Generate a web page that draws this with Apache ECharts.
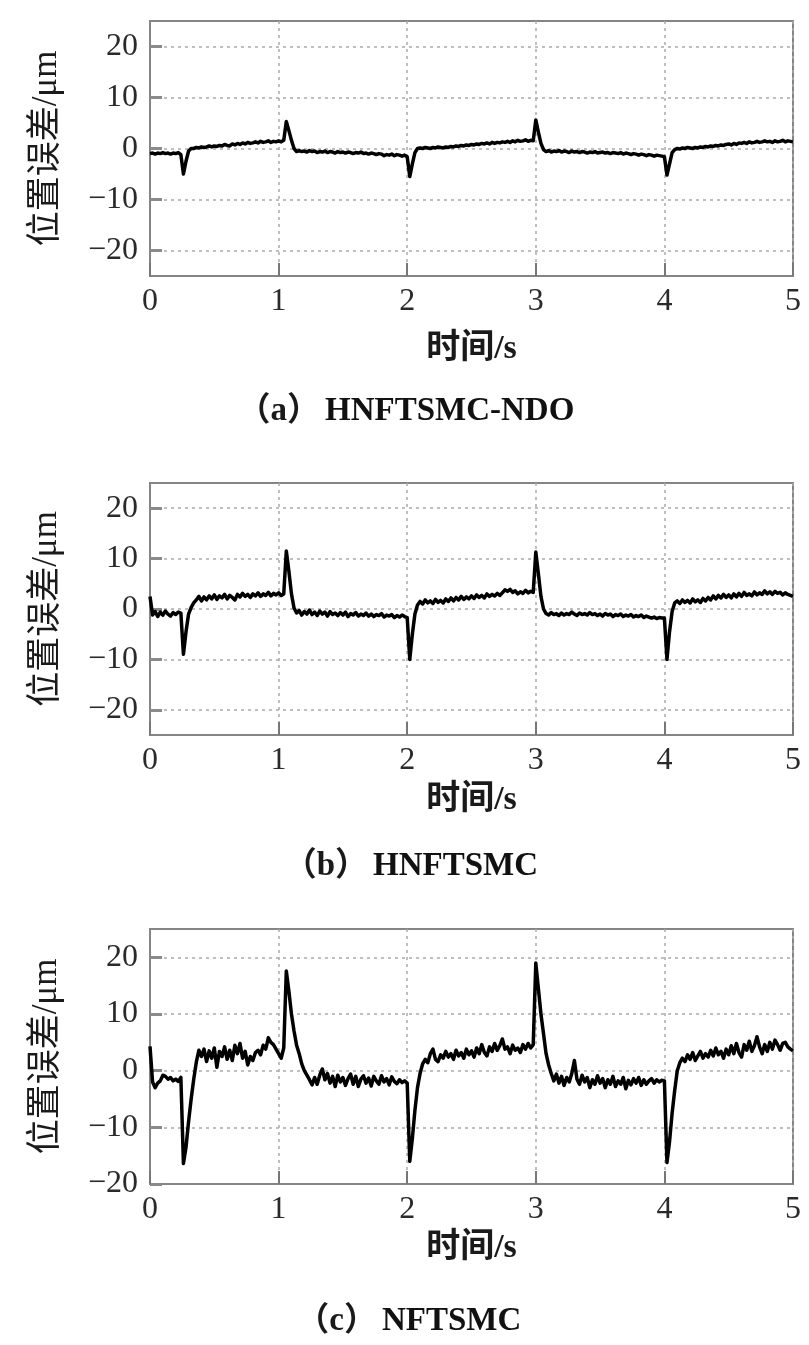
<!DOCTYPE html>
<html>
<head>
<meta charset="utf-8">
<script src="https://cdn.jsdelivr.net/npm/echarts@6/dist/echarts.min.js"></script>
<style>
html,body{margin:0;padding:0;background:#fff;}
#chart{width:809px;height:1345px;}
</style>
</head>
<body>
<div id="chart"></div>
<script>
// sample period of the recorded error signals (s)
const sampleStep = 0.02;
const xTickValues = [0, 1, 2, 3, 4, 5];
const yTickValues = [-20, -10, 0, 10, 20];
const captionTags = ['（a）', '（b）', '（c）'];
const captionNames = ['HNFTSMC-NDO', 'HNFTSMC', 'NFTSMC'];
const xAxisTitle = '时间/s';
const yAxisTitle = '位置误差/μm';

// (a) HNFTSMC-NDO position error, µm, one value every 0.02 s from 0 to 5 s
const errA = [
  -1.0,-0.9,-1.1,-0.9,-1.0,-0.8,-1.0,-0.9,-1.1,-0.9,-1.0,-0.8,-1.2,-5.0,-2.5,-0.5,0.0,0.0,0.2,0.1,0.3,0.2,0.3,0.5,0.3,
  0.5,0.4,0.6,0.5,0.8,0.6,0.5,0.9,0.7,1.0,0.8,1.1,0.9,1.2,1.0,1.1,1.3,1.1,1.4,1.2,1.3,1.5,1.2,1.4,1.3,
  1.5,1.3,1.6,5.3,3.5,1.6,0.0,-0.6,-0.4,-0.6,-0.5,-0.7,-0.4,-0.6,-0.5,-0.8,-0.6,-0.7,-0.5,-0.8,-0.6,-0.7,-0.9,-0.6,-0.8,
  -0.7,-0.9,-0.7,-0.8,-1.0,-0.8,-0.9,-0.7,-1.0,-0.9,-1.1,-0.9,-1.0,-1.2,-1.0,-1.1,-1.4,-1.2,-1.3,-1.1,-1.4,-1.2,-1.3,-1.5,-1.3,
  -1.6,-5.5,-3.0,-0.8,0.0,0.1,0.0,0.2,0.1,0.0,0.2,0.1,0.3,0.2,0.1,0.3,0.2,0.4,0.3,0.5,0.4,0.6,0.5,0.7,0.6,
  0.8,0.7,0.9,0.8,1.0,0.9,1.1,0.9,1.2,1.0,1.2,1.1,1.3,1.2,1.4,1.2,1.5,1.3,1.6,1.4,1.5,1.7,1.4,1.6,1.5,
  5.6,3.2,1.0,-0.2,-0.6,-0.4,-0.7,-0.5,-0.6,-0.4,-0.7,-0.5,-0.6,-0.8,-0.5,-0.7,-0.6,-0.8,-0.6,-0.7,-0.9,-0.7,-0.8,-0.6,-0.9,
  -0.8,-0.7,-0.9,-0.8,-1.0,-0.8,-0.9,-1.0,-0.8,-1.1,-0.9,-1.0,-1.2,-1.0,-1.1,-1.3,-1.1,-1.2,-1.4,-1.2,-1.3,-1.5,-1.3,-1.4,-1.5,
  -1.6,-5.2,-3.0,-0.8,-0.2,0.0,-0.1,0.1,0.0,0.2,0.1,0.0,0.2,0.1,0.3,0.2,0.4,0.3,0.5,0.4,0.6,0.5,0.7,0.6,0.8,
  0.9,0.7,1.0,0.8,1.1,1.0,1.2,1.0,1.3,1.1,1.2,1.4,1.2,1.3,1.5,1.3,1.4,1.2,1.5,1.3,1.4,1.6,1.3,1.5,1.4,
  1.3
];

// (b) HNFTSMC position error, µm
const errB = [
  2.5,-1.2,-0.5,-1.5,-0.6,-1.2,-0.4,-1.0,-1.4,-0.7,-1.1,-0.6,-0.8,-9.0,-4.5,-1.0,0.3,1.2,1.8,2.5,1.6,2.4,1.8,2.6,2.0,
  2.8,1.9,2.6,2.2,2.9,2.0,2.7,2.3,1.8,2.9,2.4,3.1,2.5,2.9,2.3,3.0,2.6,3.2,2.5,3.0,2.7,3.3,2.6,3.1,2.8,
  3.2,2.7,3.0,11.5,7.5,3.0,0.2,-0.8,-0.3,-1.2,-0.5,-1.0,-0.2,-1.1,-0.6,-1.3,-0.4,-1.0,-0.6,-1.4,-0.5,-1.1,-0.8,-1.3,-0.7,
  -1.2,-0.6,-1.5,-0.9,-1.2,-0.7,-1.4,-1.0,-1.3,-0.8,-1.4,-1.0,-1.5,-1.1,-1.3,-0.9,-1.6,-1.2,-1.4,-1.1,-1.7,-1.3,-1.6,-1.2,-1.5,
  -1.7,-10.0,-5.0,-1.0,0.8,1.5,1.0,1.8,1.2,1.6,1.1,1.9,1.3,1.7,1.2,2.0,1.5,2.2,1.6,2.3,1.8,2.5,1.9,2.4,2.0,
  2.6,2.1,2.8,2.3,2.7,2.2,3.0,2.5,2.9,2.6,3.1,2.7,3.2,3.8,3.5,3.9,3.3,3.6,3.0,3.4,3.1,3.7,3.2,3.5,3.3,
  11.3,7.0,2.5,0.0,-0.9,-1.2,-0.7,-1.1,-0.9,-1.3,-0.8,-1.2,-0.9,-1.1,-0.6,-1.0,-1.3,-0.8,-1.1,-0.9,-1.2,-0.7,-1.1,-0.9,-1.3,
  -1.0,-1.4,-0.9,-1.2,-1.0,-1.5,-1.1,-1.3,-1.0,-1.5,-1.2,-1.4,-1.1,-1.6,-1.3,-1.5,-1.2,-1.7,-1.4,-1.6,-1.8,-1.6,-1.9,-1.7,-1.8,
  -1.8,-10.0,-4.5,-0.5,1.2,1.6,1.1,1.8,1.3,1.7,1.2,2.0,1.4,1.8,1.3,2.1,1.6,2.3,1.8,2.6,2.0,2.7,2.2,2.9,2.3,
  2.8,2.2,3.0,2.4,3.1,2.5,3.3,2.7,3.0,2.6,3.4,2.8,3.2,2.9,3.6,3.0,3.4,2.9,3.5,3.1,3.3,2.8,3.2,2.9,2.7,
  2.5
];

// (c) NFTSMC position error, µm
const errC = [
  4.3,-2.0,-3.0,-2.2,-1.8,-0.8,-1.0,-1.5,-1.2,-1.8,-1.5,-1.9,-1.2,-16.4,-13.5,-9.0,-5.0,-1.5,1.5,3.6,2.5,3.8,1.6,3.5,2.2,
  4.0,0.6,3.4,2.5,4.2,2.0,3.6,1.8,4.5,3.0,4.8,2.2,3.4,1.0,2.5,1.8,3.2,3.6,2.8,4.5,3.8,5.8,5.0,4.6,3.8,
  3.0,2.2,4.0,17.6,14.0,10.0,7.0,4.5,3.0,1.2,0.0,-0.8,-1.6,-2.5,-1.2,-2.4,-0.8,0.3,-1.6,-0.5,-2.2,-1.0,-2.8,-0.8,-2.0,
  -1.2,-2.6,-1.4,-0.6,-2.4,-1.0,-2.8,-1.5,-0.9,-2.2,-1.3,-2.7,-1.0,-1.8,-2.4,-0.9,-2.0,-1.4,-2.5,-1.1,-1.9,-2.3,-1.6,-2.1,-1.8,
  -2.2,-16.0,-12.0,-7.0,-3.0,-0.5,1.2,2.0,1.4,3.0,3.8,2.0,1.6,2.8,2.2,3.4,2.4,3.0,2.0,3.6,2.6,3.2,2.2,3.8,2.8,
  3.5,2.4,4.0,3.0,4.6,3.2,2.6,4.2,3.4,4.8,3.6,4.4,5.6,3.8,4.2,3.0,4.5,3.6,4.0,3.2,4.6,3.8,4.8,4.0,4.6,
  19.0,14.5,10.0,6.5,3.0,1.0,-0.5,-1.8,-0.6,-2.2,-1.0,-2.6,-1.2,-2.0,-0.5,1.8,-1.5,-2.4,-0.8,-2.0,-1.2,-3.0,-1.6,-2.4,-0.9,
  -2.2,-1.4,-3.0,-1.6,-2.4,-1.0,-2.8,-1.8,-2.4,-1.2,-3.2,-1.7,-2.5,-1.4,-2.2,-1.2,-2.6,-1.6,-2.4,-1.8,-1.4,-2.2,-1.6,-2.0,-1.7,
  -1.8,-16.2,-12.5,-7.5,-3.5,0.0,1.4,2.2,1.6,2.8,2.0,3.2,1.8,2.6,3.4,2.2,3.0,2.4,3.6,2.6,4.0,2.8,3.4,2.2,3.8,
  2.8,4.4,3.0,4.8,3.2,2.4,4.6,3.6,5.2,3.4,4.4,6.0,4.2,3.0,4.6,3.4,5.0,3.8,5.4,4.6,3.6,4.8,5.0,4.2,3.8,
  3.5
];

const seriesValues = [errA, errB, errC];
const yMins = [-25, -25, -20];
const yMaxs = [25, 25, 25];

const serifFont = "'Liberation Serif', 'Times New Roman', serif";
const mixedFont = "'Liberation Serif', 'Noto Sans CJK SC', serif";

// layout
const grids = [
  { left: 150, top: 21, width: 643, height: 255 },
  { left: 150, top: 483, width: 643, height: 252 },
  { left: 150, top: 929, width: 643, height: 255 }
];
const xNameGaps = [56, 48, 47];
const captionY = [411, 866, 1321];
const captionStartX = [325, 373, 382];

const frameColor = '#858585';
const gridLineStyle = { color: '#aaaaaa', type: [3, 4], width: 1.5 };

function fmtMinus(v) { return String(v).replace('-', '\u2212'); }

const option = {
  animation: false,
  backgroundColor: '#ffffff',
  grid: grids.map(g => Object.assign({ show: true, borderColor: frameColor, borderWidth: 2, backgroundColor: 'transparent' }, g)),
  xAxis: grids.map((g, i) => ({
    gridIndex: i,
    type: 'value',
    min: xTickValues[0],
    max: xTickValues[xTickValues.length - 1],
    interval: 1,
    axisLine: { show: true, onZero: false, lineStyle: { color: frameColor, width: 2 } },
    axisTick: { show: true, inside: true, length: 13, lineStyle: { color: '#777', width: 2 } },
    axisLabel: { fontFamily: serifFont, fontSize: 32, color: '#2a2a2a', margin: 10 },
    splitLine: { show: true, lineStyle: gridLineStyle },
    name: xAxisTitle,
    nameLocation: 'middle',
    nameGap: xNameGaps[i],
    nameTextStyle: { fontFamily: mixedFont, fontSize: 34, color: '#1a1a1a', fontWeight: 'bold' }
  })),
  yAxis: grids.map((g, i) => ({
    gridIndex: i,
    type: 'value',
    min: yMins[i],
    max: yMaxs[i],
    axisLine: { show: true, onZero: false, lineStyle: { color: frameColor, width: 2 } },
    axisTick: { show: true, inside: true, length: 12, customValues: yTickValues, lineStyle: { color: '#8a8a8a', width: 3 } },
    axisLabel: { customValues: yTickValues, formatter: fmtMinus, fontFamily: serifFont, fontSize: 32, color: '#2a2a2a', margin: 12 },
    splitLine: { show: true, lineStyle: gridLineStyle },
    name: yAxisTitle,
    nameLocation: 'middle',
    nameGap: 86,
    nameTextStyle: { fontFamily: mixedFont, fontSize: 35, color: '#1a1a1a' }
  })),
  series: seriesValues.map((vals, i) => ({
    type: 'line',
    xAxisIndex: i,
    yAxisIndex: i,
    showSymbol: false,
    symbol: 'none',
    silent: true,
    lineStyle: { color: '#000', width: 3.5, join: 'round' },
    data: vals.map((v, k) => [Number((k * sampleStep).toFixed(2)), v])
  })),
  graphic: captionNames.flatMap((name, i) => [
    {
      type: 'text',
      x: captionStartX[i] - 5,
      y: captionY[i],
      style: { text: captionTags[i], font: "bold 33px 'Liberation Serif', 'Noto Sans CJK SC'", fill: '#1a1a1a', textAlign: 'right', textVerticalAlign: 'middle' }
    },
    {
      type: 'text',
      x: captionStartX[i],
      y: captionY[i],
      style: { text: name, font: "bold 33px 'Liberation Serif', 'Times New Roman', serif", fill: '#111', textAlign: 'left', textVerticalAlign: 'middle' }
    }
  ])
};

const chart = echarts.init(document.getElementById('chart'), null, { renderer: 'canvas' });
chart.setOption(option);
</script>
</body>
</html>
